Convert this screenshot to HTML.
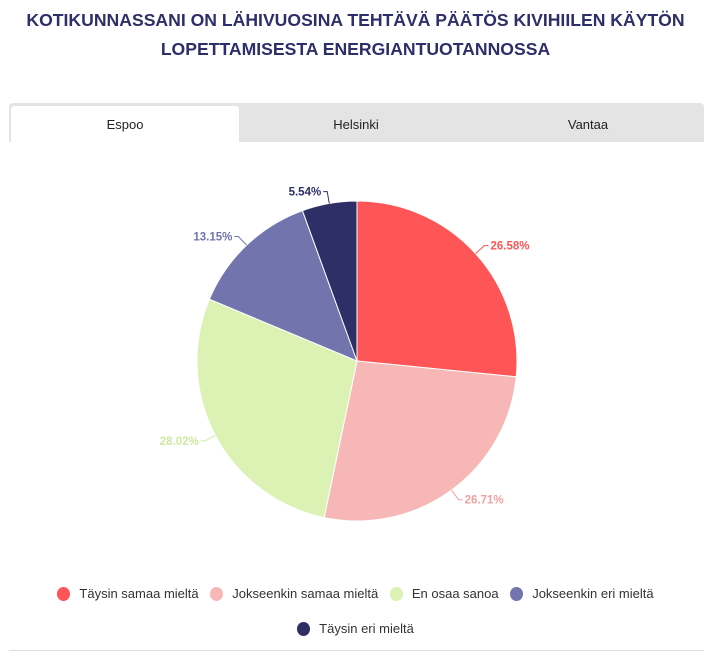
<!DOCTYPE html>
<html><head><meta charset="utf-8"><style>
body{margin:0;width:711px;height:656px;background:#fff;font-family:"Liberation Sans",sans-serif;overflow:hidden;position:relative}
h1{position:absolute;top:6px;left:0;width:711px;margin:0;text-align:center;color:#2e2e6a;font-size:17.6px;line-height:29px;font-weight:bold}
.tabs{position:absolute;left:9px;top:103px;width:695px;height:39px;background:#e4e4e4;border-radius:4px 4px 0 0}
.tab{position:absolute;top:3px;height:36px;line-height:38px;text-align:center;font-size:13px;color:#222}
.active{background:#fff;border-radius:3px 3px 0 0}
.legend{position:absolute;left:0;width:711px;text-align:center;font-size:13px;color:#333}
.li{display:inline-block;margin:0 4px}
.dot{display:inline-block;width:13px;height:14px;border-radius:50%;vertical-align:-3px;margin-right:9px}
.rule{position:absolute;left:9px;top:650px;width:695px;height:1px;background:#ddd}
</style></head><body>
<h1>KOTIKUNNASSANI ON LÄHIVUOSINA TEHTÄVÄ PÄÄTÖS KIVIHIILEN KÄYTÖN<br>LOPETTAMISESTA ENERGIANTUOTANNOSSA</h1>
<div class="tabs">
<div class="tab active" style="left:2px;width:228px">Espoo</div>
<div class="tab" style="left:232px;width:230px">Helsinki</div>
<div class="tab" style="left:464px;width:230px">Vantaa</div>
</div>
<svg id="pie" width="711" height="656" style="position:absolute;left:0;top:0"></svg>
<div class="legend" style="top:586px">
<span class="li"><span class="dot" style="background:#fe5556"></span>Täysin samaa mieltä</span>
<span class="li"><span class="dot" style="background:#f7b7b7"></span>Jokseenkin samaa mieltä</span>
<span class="li"><span class="dot" style="background:#dcf2b4"></span>En osaa sanoa</span>
<span class="li"><span class="dot" style="background:#7274ad"></span>Jokseenkin eri mieltä</span>
</div>
<div class="legend" style="top:621px">
<span class="li"><span class="dot" style="background:#2e2f66"></span>Täysin eri mieltä</span>
</div>
<div class="rule"></div>
<script>
const categories=["Täysin samaa mieltä","Jokseenkin samaa mieltä","En osaa sanoa","Jokseenkin eri mieltä","Täysin eri mieltä"];
const values=[26.58,26.71,28.02,13.15,5.54];
const colors=["#fe5556","#f7b7b7","#dcf2b4","#7274ad","#2e2f66"];
const labelColors=["#fe5556","#f0a0a0","#cfe8a0","#7274ad","#2e2f66"];
const svg=document.getElementById('pie');const NS="http://www.w3.org/2000/svg";
const cx=357,cy=361,R=160;
const total=values.reduce((a,b)=>a+b,0);
let a0=0;
function pt(a,r){return [cx+r*Math.sin(a),cy-r*Math.cos(a)];}
values.forEach((v,i)=>{
 const a1=a0+v/total*2*Math.PI;
 const p0=pt(a0,R),p1=pt(a1,R);
 const path=document.createElementNS(NS,'path');
 path.setAttribute('d',`M${cx},${cy}L${p0[0]},${p0[1]}A${R},${R} 0 ${a1-a0>Math.PI?1:0} 1 ${p1[0]},${p1[1]}Z`);
 path.setAttribute('fill',colors[i]);path.setAttribute('stroke','#fff');path.setAttribute('stroke-width','1');
 
 
 svg.appendChild(path);
 const m=(a0+a1)/2;const e=pt(m,R),o=pt(m,R+12);const right=Math.sin(m)>=0;
 const hx=o[0]+(right?4:-4);
 const ln=document.createElementNS(NS,'path');
 ln.setAttribute('d',`M${e[0]},${e[1]}L${o[0]},${o[1]}L${hx},${o[1]}`);
 ln.setAttribute('stroke',labelColors[i]);ln.setAttribute('fill','none');
 
 
 svg.appendChild(ln);
 const t=document.createElementNS(NS,'text');
 t.setAttribute('x',hx+(right?2:-2));t.setAttribute('y',o[1]+4);
 t.setAttribute('text-anchor',right?'start':'end');t.setAttribute('font-size','11.5');t.setAttribute('font-weight','bold');
 t.setAttribute('fill',labelColors[i]);t.setAttribute('font-family','Liberation Sans, sans-serif');
 t.textContent=v.toFixed(2)+'%';
 
 
 svg.appendChild(t);
 a0=a1;
});
</script>
</body></html>
